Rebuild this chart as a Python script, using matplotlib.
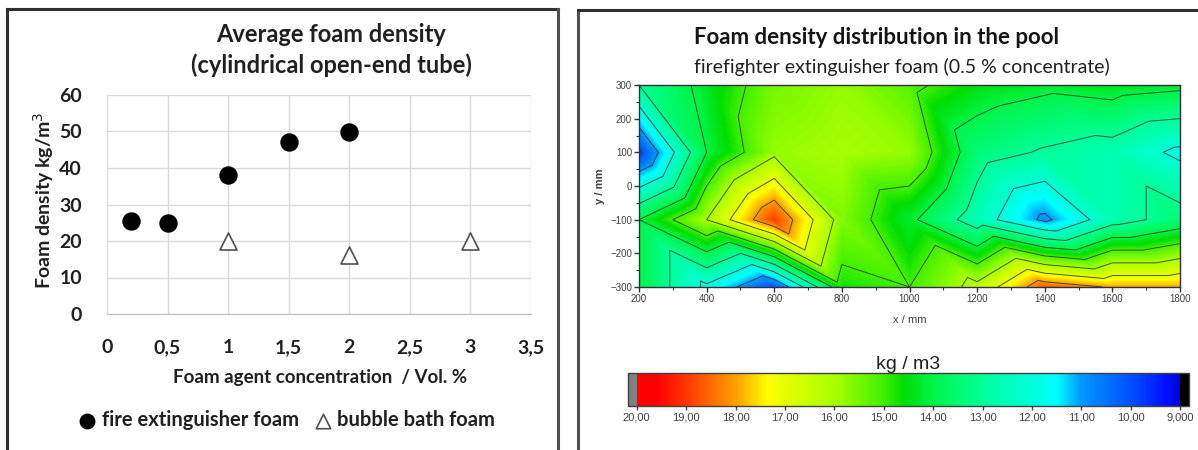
# Foam density: left = average density vs. concentration, right = contour map of the pool
import numpy as np
import matplotlib
matplotlib.use('Agg')
import matplotlib.pyplot as plt
import matplotlib.tri as mtri
from matplotlib.colors import LinearSegmentedColormap, Normalize
from matplotlib.lines import Line2D

# --- data, left panel
fire_conc = [0.2, 0.5, 1.0, 1.5, 2.0]
fire_density = [25.4, 24.8, 38.0, 47.0, 49.8]
bath_conc = [1.0, 2.0, 3.0]
bath_density = [20.0, 16.2, 20.0]

# --- data, right panel (measuring grid in the pool, kg/m3)
grid_x = [200, 400, 600, 800, 1000, 1200, 1400, 1600, 1800]
grid_y = [-300, -100, 100, 300]
dens_y_m300 = [14.0, 11.8, 10.0, 14.7, 15.0, 16.3, 18.6, 17.9, 17.9]
dens_y_m100 = [14.0, 16.0, 18.9, 15.6, 14.2, 12.5, 10.8, 12.6, 13.4]
dens_y_100 = [9.8, 14.0, 15.8, 16.0, 15.8, 13.4, 12.9, 12.6, 11.8]
dens_y_300 = [13.0, 14.3, 15.5, 15.8, 15.2, 14.5, 14.2, 14.4, 14.2]

cbar_ticks = [20, 19, 18, 17, 16, 15, 14, 13, 12, 11, 10, 9]
cbar_labels = ['20,00', '19,00', '18,00', '17,00', '16,00', '15,00',
               '14,00', '13,00', '12,00', '11,00', '10,00', '9,000']

W, H = 1198, 450
def fx(p): return p / W
def fy(p): return 1 - p / H

calib = 'Lato'
arial = 'Liberation Sans'

fig = plt.figure(figsize=(W / 100, H / 100), dpi=100)
fig.patch.set_facecolor('white')

# panel frames (two screenshots glued together)
fig.add_artist(Line2D([fx(7), fx(7)], [fy(9), 0], color='#303030', lw=2.2))
fig.add_artist(Line2D([fx(7), fx(558)], [fy(9), fy(9)], color='#303030', lw=2.2))
fig.add_artist(Line2D([fx(558), fx(558)], [fy(9), 0], color='#505050', lw=2.2))
fig.add_artist(Line2D([fx(578), fx(578)], [fy(10), 0], color='#505050', lw=2.2))
fig.add_artist(Line2D([fx(578), 1], [fy(10), fy(10)], color='#303030', lw=2.2))

# ---------------- left panel ----------------
ax = fig.add_axes([fx(107), fy(314), fx(531) - fx(107), fy(95) - fy(314)])
ax.set_xlim(0, 3.5)
ax.set_ylim(0, 60)
ax.set_xticks(np.arange(0, 3.51, 0.5))
ax.set_yticks(np.arange(0, 61, 10))
ax.set_xticklabels(['0', '0,5', '1', '1,5', '2', '2,5', '3', '3,5'])
ax.grid(True, color='#d9d9d9', lw=1.0)
ax.set_axisbelow(True)
for s in ['left', 'right', 'top']:
    ax.spines[s].set_visible(False)
ax.spines['bottom'].set_color('#bfbfbf')
ax.tick_params(length=0, labelsize=14, colors='#202020', pad=18)
ax.tick_params(axis='x', pad=18)
for lab in ax.get_xticklabels() + ax.get_yticklabels():
    lab.set_family(calib)
    lab.set_fontweight('bold')

h1 = ax.scatter(fire_conc, fire_density, s=150, marker='o', color='black',
                zorder=3, label='fire extinguisher foam')
h2 = ax.scatter(bath_conc, bath_density, s=150, marker='^', facecolor='white',
                edgecolor='#505050', linewidth=1.2, zorder=3, label='bubble bath foam')

fig.text(fx(331), fy(50), 'Average foam density\n(cylindrical open-end tube)',
         ha='center', va='center', family=calib, fontweight='bold', fontsize=17,
         linespacing=1.35, color='#202020')
fig.text(fx(320), fy(377), 'Foam agent concentration  / Vol. %', ha='center', va='center',
         family=calib, fontweight='bold', fontsize=13.5, color='#202020')
fig.text(fx(44), fy(200), 'Foam density kg/m$^3$', ha='center', va='center',
         rotation=90, family=calib, fontweight='bold', fontsize=14, color='#202020')

fig.legend(handles=[h1, h2], loc='center', bbox_to_anchor=(fx(285), fy(420)),
           ncol=2, frameon=False, markerscale=0.85, handletextpad=0.1,
           handlelength=1.2, columnspacing=0.6,
           prop={'family': calib, 'weight': 'bold', 'size': 14.5},
           labelcolor='#202020')

# ---------------- right panel ----------------
stops = [(9.0, '#0000e0'), (9.3, '#0010ff'), (10.0, '#0050ff'), (11.0, '#0098ff'),
         (11.5, '#00ffff'), (12.0, '#00ffd8'), (13.0, '#00ff98'), (14.0, '#00f448'),
         (14.6, '#00dd00'), (15.0, '#40f000'), (16.0, '#a8ff00'), (17.0, '#e4ff00'),
         (17.35, '#ffff00'), (18.0, '#ffa000'), (19.0, '#ff3800'), (19.6, '#ff0000'),
         (20.0, '#ff0000')]
cmap = LinearSegmentedColormap.from_list('foam', [((v - 9) / 11, c) for v, c in stops], N=512)
cmap.set_over('#808080')
cmap.set_under('black')
norm = Normalize(9, 20)

X, Y = np.meshgrid(grid_x, grid_y)
Z = np.array([dens_y_m300, dens_y_m100, dens_y_100, dens_y_300])
nx, ny = len(grid_x), len(grid_y)
tris = []
for j in range(ny - 1):
    for i in range(nx - 1):
        a = j * nx + i
        b = a + 1
        c = a + nx
        d = c + 1
        tris.append([a, b, c])
        tris.append([b, d, c])
tri = mtri.Triangulation(X.ravel(), Y.ravel(), tris)

axc = fig.add_axes([fx(639), fy(287), fx(1180) - fx(639), fy(85) - fy(287)])
axc.tricontourf(tri, Z.ravel(), levels=np.linspace(9, 20, 221), cmap=cmap, norm=norm)
axc.tricontour(tri, Z.ravel(), levels=np.arange(10, 20, 1), colors='#2b3b30',
               linewidths=0.7, alpha=0.85)
axc.set_xlim(200, 1800)
axc.set_ylim(-300, 300)
axc.set_xticks(np.arange(200, 1801, 200))
axc.set_xticks(np.arange(200, 1801, 100), minor=True)
axc.set_yticks(np.arange(-300, 301, 100))
axc.set_yticks(np.arange(-300, 301, 50), minor=True)
axc.tick_params(which='both', direction='out', colors='#303040', labelsize=7, pad=1.5)
axc.tick_params(which='major', length=3.5, width=1)
axc.tick_params(which='minor', length=2, width=0.8)
for lab in axc.get_xticklabels() + axc.get_yticklabels():
    lab.set_family(arial)
    lab.set_color('#404040')
for s in axc.spines.values():
    s.set_color('#303040')
    s.set_linewidth(1.0)
axc.set_xlabel('x / mm', family=arial, fontsize=8, color='#404040', labelpad=8)
axc.set_ylabel('y / mm', family=arial, fontsize=8, color='#404040', fontweight='bold', labelpad=4)

fig.text(fx(694), fy(37), 'Foam density distribution in the pool', ha='left', va='center',
         family=calib, fontweight='bold', fontsize=16, color='#151515')
fig.text(fx(694), fy(67), 'firefighter extinguisher foam (0.5 % concentrate)', ha='left',
         va='center', family=calib, fontsize=14, color='#202020')

# colour bar, 20 on the left, 9 on the right
cax = fig.add_axes([fx(628), fy(406), fx(1189) - fx(628), fy(373) - fy(406)])
sm = plt.cm.ScalarMappable(norm=norm, cmap=cmap)
cb = fig.colorbar(sm, cax=cax, orientation='horizontal', extend='both',
                  extendrect=True, extendfrac=0.016)
cax.invert_xaxis()
cb.set_ticks(cbar_ticks)
cb.set_ticklabels(cbar_labels)
cb.outline.set_edgecolor('#404040')
cb.outline.set_linewidth(1.0)
cax.tick_params(length=3, width=1, colors='#404040', labelsize=8, pad=2)
for lab in cax.get_xticklabels():
    lab.set_family(arial)
cax.set_title('kg / m3', family=arial, fontsize=14, color='#202020', pad=3)

fig.savefig('out.png', dpi=100, facecolor='white')
